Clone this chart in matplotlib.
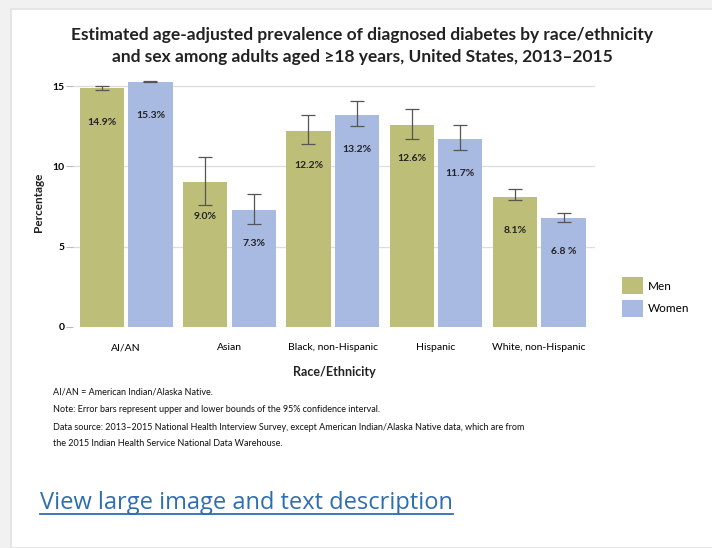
import matplotlib.pyplot as plt
import numpy as np
from matplotlib.patches import Rectangle
from matplotlib.lines import Line2D

plt.rcParams['font.family'] = ['Lato', 'DejaVu Sans']

groups = ['AI/AN', 'Asian', 'Black, non-Hispanic', 'Hispanic', 'White, non-Hispanic']
men = [14.9, 9.0, 12.2, 12.6, 8.1]
women = [15.3, 7.3, 13.2, 11.7, 6.8]
men_lo = [14.8, 7.6, 11.4, 11.7, 7.9]
men_hi = [15.0, 10.6, 13.2, 13.6, 8.6]
women_lo = [15.25, 6.4, 12.5, 11.0, 6.55]
women_hi = [15.35, 8.3, 14.1, 12.6, 7.1]
men_labels = ['14.9%', '9.0%', '12.2%', '12.6%', '8.1%']
women_labels = ['15.3%', '7.3%', '13.2%', '11.7%', '6.8 %']

W, H = 712, 548
fig = plt.figure(figsize=(W / 100, H / 100), dpi=100)
fig.patch.set_facecolor('#f1f1f1')

# white card with a faint edge, kept behind the axes
card = Rectangle((11 / W, 0), 1, 1 - 9 / H, transform=fig.transFigure,
                 facecolor='white', edgecolor='#e2e2e2', lw=1.2, zorder=-10)
fig.patches.append(card)

ax = fig.add_axes([73 / W, (H - 326.5) / H, 522 / W, 248 / H])
ax.set_facecolor('none')
ax.set_zorder(1)

x = np.arange(len(groups))
bw = 0.43
off = 0.235
men_c = '#bdbf78'
women_c = '#a8b9e2'

err_m = [np.array(men) - np.array(men_lo), np.array(men_hi) - np.array(men)]
err_w = [np.array(women) - np.array(women_lo), np.array(women_hi) - np.array(women)]

ax.bar(x - off, men, bw, color=men_c, label='Men', zorder=2)
ax.bar(x + off, women, bw, color=women_c, label='Women', zorder=2)
ax.errorbar(x - off, men, yerr=err_m, fmt='none', ecolor='#555555', elinewidth=0.9,
            capsize=5, capthick=0.9, zorder=3)
ax.errorbar(x + off, women, yerr=err_w, fmt='none', ecolor='#555555', elinewidth=0.9,
            capsize=5, capthick=0.9, zorder=3)

for xi, v, t in zip(x - off, men, men_labels):
    ax.annotate(t, (xi, v), xytext=(0, -24.5), textcoords='offset points',
                ha='center', va='center', fontsize=7.5, fontweight='bold', color='#222222')
for xi, v, t in zip(x + off, women, women_labels):
    ax.annotate(t, (xi, v), xytext=(0, -24.5), textcoords='offset points',
                ha='center', va='center', fontsize=7.5, fontweight='bold', color='#222222')

ax.set_xlim(-0.515, 4.54)
ax.set_ylim(0, 15.5)
ax.set_yticks([0, 5, 10, 15])
ax.yaxis.grid(True, color='#dddddd', lw=0.9, zorder=0)
ax.set_axisbelow(True)
for s in ax.spines.values():
    s.set_visible(False)
ax.tick_params(axis='y', length=5, color='#bbbbbb', labelsize=7.5, pad=1)
ax.tick_params(axis='x', length=0, labelsize=7.5, pad=12)
for lab in ax.get_yticklabels():
    lab.set_fontweight('bold')
ax.set_xticks(x)
ax.set_xticklabels(groups)
ax.set_xlabel('Race/Ethnicity', fontsize=9, fontweight='bold', labelpad=10, color='#222222')
ax.set_ylabel('Percentage', fontsize=8.5, fontweight='bold', labelpad=6, color='#222222')

ax.legend(loc='upper left', bbox_to_anchor=(622 / W, 1 - 277 / H), bbox_transform=fig.transFigure,
          frameon=False, fontsize=8.5, handlelength=1.8, handleheight=1.9, labelspacing=0.45,
          handletextpad=0.4, borderpad=0, borderaxespad=0)

fig.text(362 / W, 1 - 35 / H, 'Estimated age-adjusted prevalence of diagnosed diabetes by race/ethnicity',
         ha='center', va='center', fontsize=12.5, fontweight='bold', color='#222222')
fig.text(362 / W, 1 - 57 / H, 'and sex among adults aged \u226518 years, United States, 2013\u20132015',
         ha='center', va='center', fontsize=12.5, fontweight='bold', color='#222222')

notes = [
    (392, 'AI/AN = American Indian/Alaska Native.'),
    (410, 'Note: Error bars represent upper and lower bounds of the 95% confidence interval.'),
    (428, 'Data source: 2013\u20132015 National Health Interview Survey, except American Indian/Alaska Native data, which are from'),
    (444, 'the 2015 Indian Health Service National Data Warehouse.'),
]
for yy, t in notes:
    fig.text(53 / W, 1 - yy / H, t, ha='left', va='center', fontsize=6.5, color='#111111')

link = fig.text(40 / W, 1 - 503 / H, 'View large image and text description', ha='left', va='center',
                fontsize=17, color='#2f6db3', family=['Open Sans', 'DejaVu Sans'])
fig.canvas.draw()
bb = link.get_window_extent().transformed(fig.transFigure.inverted())
fig.lines.append(Line2D([bb.x0, bb.x1], [bb.y0 + 1 / H, bb.y0 + 1 / H], transform=fig.transFigure,
                        color='#2f6db3', lw=1.3))

fig.savefig('out.png', dpi=100)
